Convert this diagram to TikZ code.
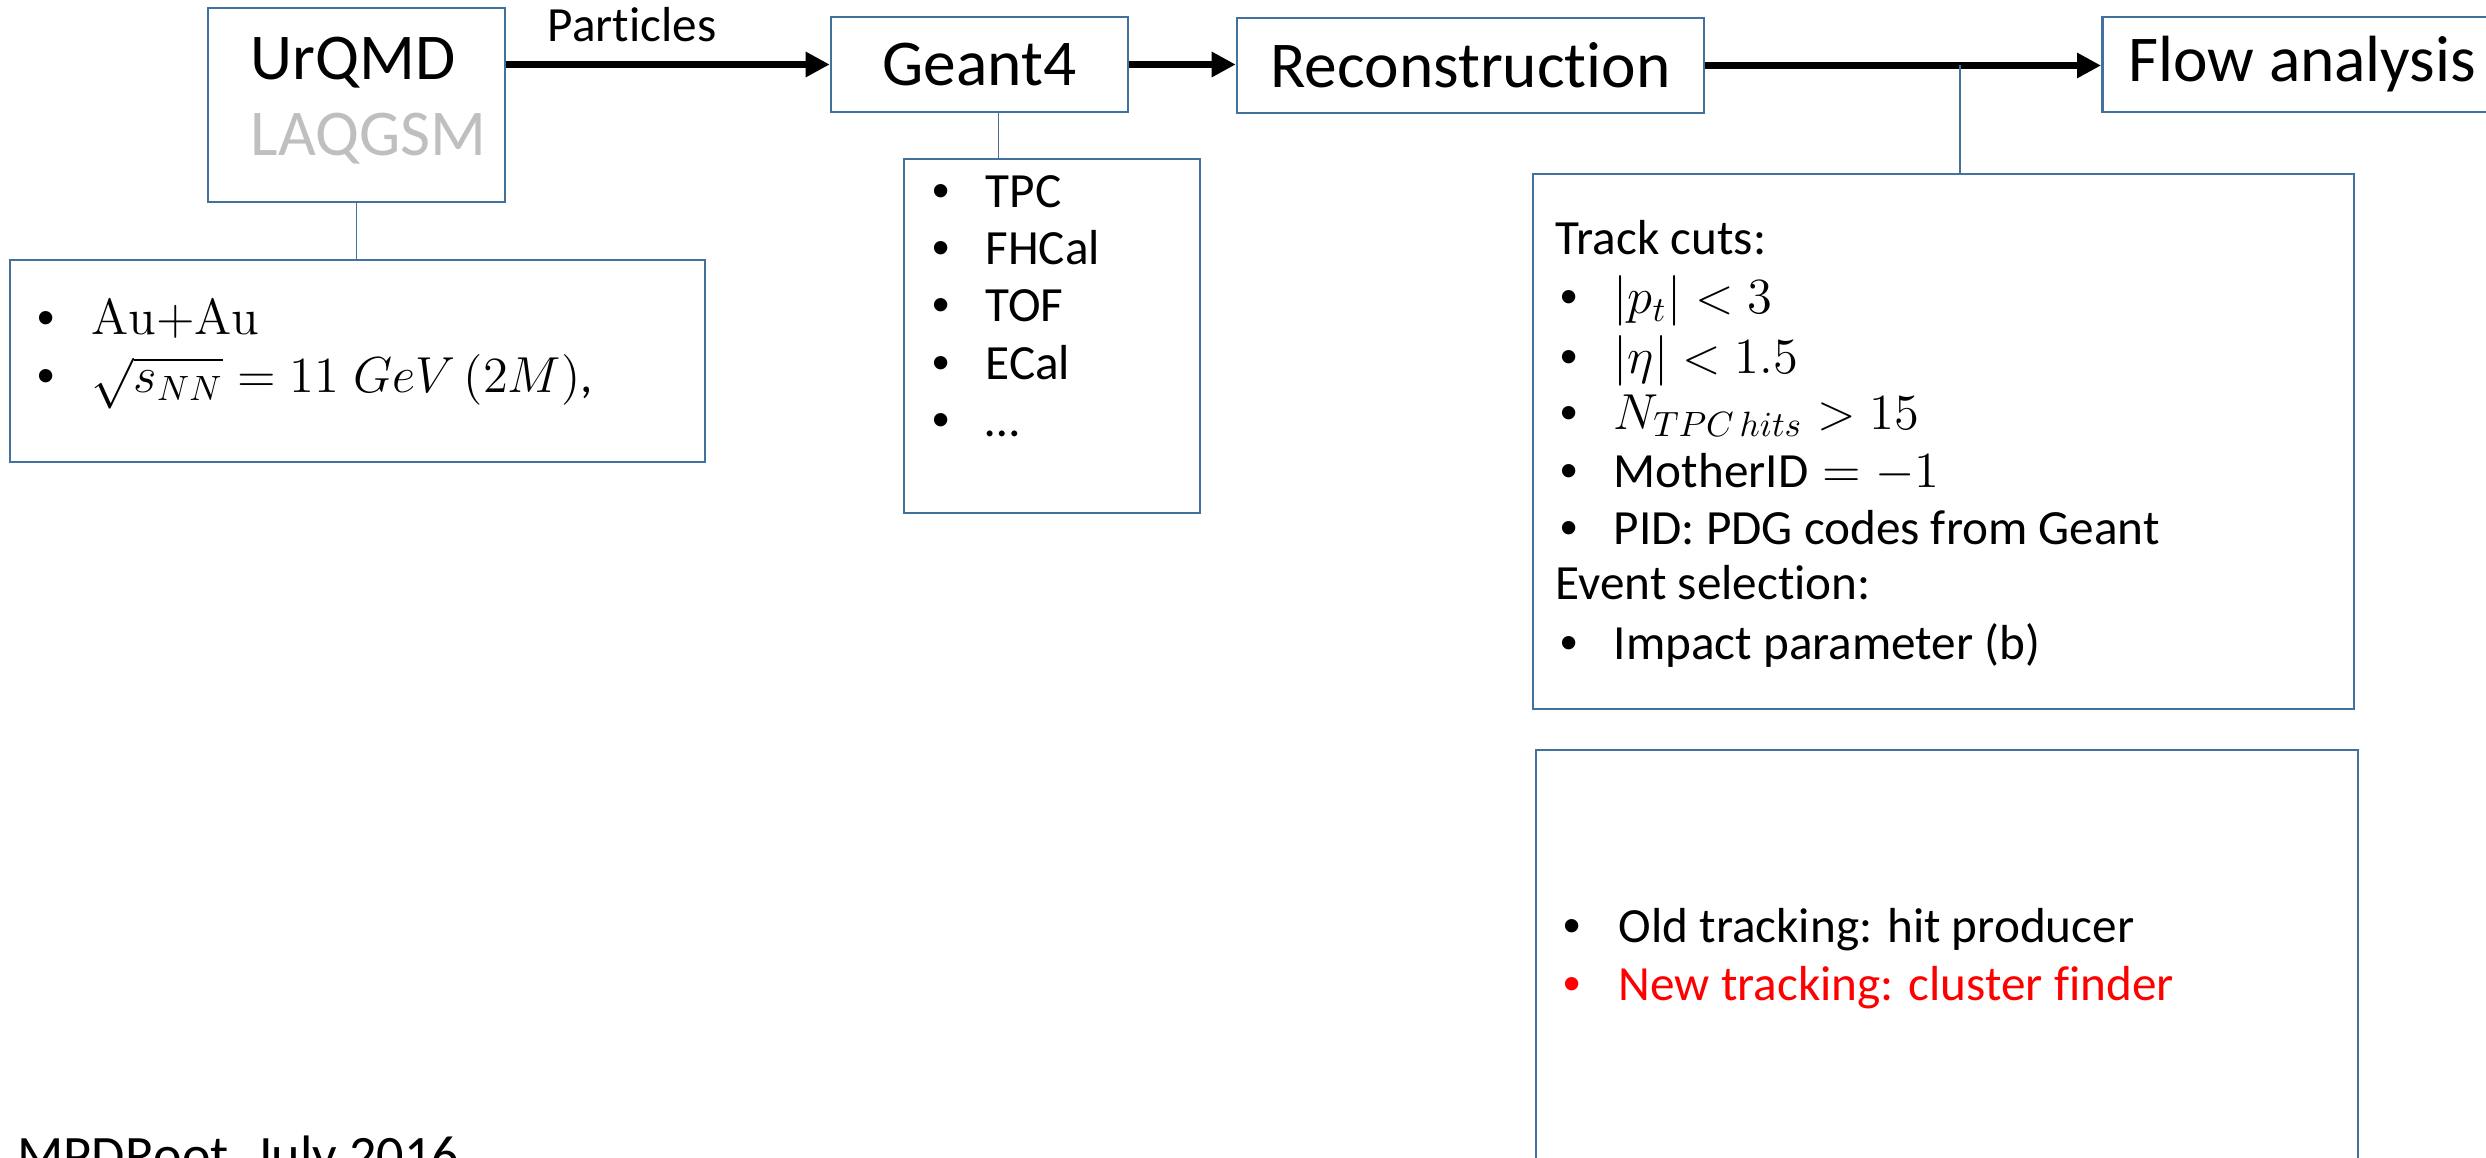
\documentclass[tikz,border=0pt]{standalone}
\usepackage[no-math]{fontspec}
\setmainfont{Carlito}[Ligatures=NoCommon]
\newfontfamily\bulletfont{Liberation Sans}
\usetikzlibrary{arrows.meta}
\definecolor{boxblue}{HTML}{41719C}
\definecolor{laqgray}{HTML}{BFBFBF}
\definecolor{newred}{HTML}{FF0000}
\newcommand{\blt}{{\bulletfont\textbullet}}
\tikzset{
  box/.style={draw=boxblue,line width=0.75pt,inner sep=0pt},
  flowarrow/.style={line width=2pt,-{Triangle[length=0.24cm,width=0.24cm]}},
  link/.style={draw=boxblue,line width=0.45pt},
  head/.style={font=\fontsize{18.6}{22}\selectfont},
  item/.style={anchor=base west,inner sep=0pt,font=\fontsize{14}{17}\selectfont},
}
\begin{document}
\begin{tikzpicture}
\useasboundingbox (0,0) rectangle (24.86,-11.58);
\clip (0,0) rectangle (24.86,-11.58);
% chain
\node[box,minimum width=2.97cm,minimum height=1.94cm] (urqmd) at (3.565,-1.05) {};
\node[item,head] (urqmdt) at (2.50,-.80) {UrQMD};
\node[item,head,text=laqgray] (laqt) at (2.50,-1.56) {LAQGSM};
\node[box,head,minimum width=2.97cm,minimum height=.95cm] (geant) at (9.795,-.645) {Geant4};
\node[box,head,minimum width=4.67cm,minimum height=.95cm] (reco) at (14.705,-.655) {Reconstruction};
\node[box,head,anchor=west,minimum height=.95cm,inner xsep=.26cm] (flow) at (21.01,-.645) {Flow analysis};
\draw[flowarrow] (urqmd.east |- geant.west) -- (geant.west);
\node[item,anchor=base] (plabel) at (6.32,-.42) {Particles};
\draw[flowarrow] (geant.east) -- (geant.east -| reco.west);
\draw[flowarrow] (reco.east) -- (reco.east -| flow.west);
% collision box
\node[box,minimum width=6.95cm,minimum height=2.02cm] (coll) at (3.575,-3.61) {};
\draw[link] (urqmd.south) -- (urqmd.south |- coll.north);
\node[item] (cb1) at (.37,-3.35) {\blt};
\node[item] (ct1) at (.91,-3.35) {$\mathrm{Au}{+}\mathrm{Au}$};
\node[item] (cb2) at (.37,-3.93) {\blt};
\node[item] (ct2) at (.91,-3.93) {$\sqrt{s_{NN}}=11\;GeV\,(2M)$,};
% detectors
\node[box,minimum width=2.96cm,minimum height=3.54cm] (det) at (10.52,-3.36) {};
\draw[link] ([xshift=.19cm]geant.south) -- ([xshift=.19cm]geant.south |- det.north);
\node[item] (db1) at (9.32,-2.08) {\blt};
\node[item] (dt1) at (9.85,-2.08) {TPC};
\node[item] (db2) at (9.32,-2.65) {\blt};
\node[item] (dt2) at (9.85,-2.65) {FHCal};
\node[item] (db3) at (9.32,-3.22) {\blt};
\node[item] (dt3) at (9.85,-3.22) {TOF};
\node[item] (db4) at (9.32,-3.80) {\blt};
\node[item] (dt4) at (9.85,-3.80) {ECal};
\node[item] (db5) at (9.32,-4.37) {\blt};
\node[item] (dt5) at (9.85,-4.37) {…};
% cuts
\node[box,minimum width=8.21cm,minimum height=5.35cm] (cuts) at (19.435,-4.415) {};
\coordinate (tap) at (19.60,-.655);
\draw[link] (tap) -- (tap |- cuts.north);
\node[item] (kt0) at (15.55,-2.55) {Track cuts:};
\node[item] (kb1) at (15.60,-3.14) {\blt};
\node[item] (kt1) at (16.13,-3.14) {$|p_t|<3$};
\node[item] (kb2) at (15.60,-3.74) {\blt};
\node[item] (kt2) at (16.13,-3.74) {$|\eta|<1.5$};
\node[item] (kb3) at (15.60,-4.29) {\blt};
\node[item] (kt3) at (16.13,-4.29) {$N_{TPC\,hits}>15$};
\node[item] (kb4) at (15.60,-4.87) {\blt};
\node[item] (kt4) at (16.13,-4.87) {MotherID${}=-1$};
\node[item] (kb5) at (15.60,-5.44) {\blt};
\node[item] (kt5) at (16.13,-5.44) {PID: PDG codes from Geant};
\node[item] (et0) at (15.55,-5.99) {Event selection:};
\node[item] (eb1) at (15.60,-6.59) {\blt};
\node[item] (et1) at (16.13,-6.59) {Impact parameter (b)};
% tracking
\node[box,minimum width=8.22cm,minimum height=4.5cm] (track) at (19.47,-9.75) {};
\node[item] (tb1) at (15.63,-9.42) {\blt};
\node[item] (tt1) at (16.18,-9.42) {Old tracking: hit producer};
\node[item,text=newred] (tb2) at (15.63,-10.00) {\blt};
\node[item,text=newred] (tt2) at (16.18,-10.00) {New tracking: cluster finder};
\node[anchor=base west,inner sep=0pt,font=\fontsize{15.4}{18}\selectfont] (mpd) at (.17,-11.73) {MPDRoot, July 2016};
\end{tikzpicture}
\end{document}
